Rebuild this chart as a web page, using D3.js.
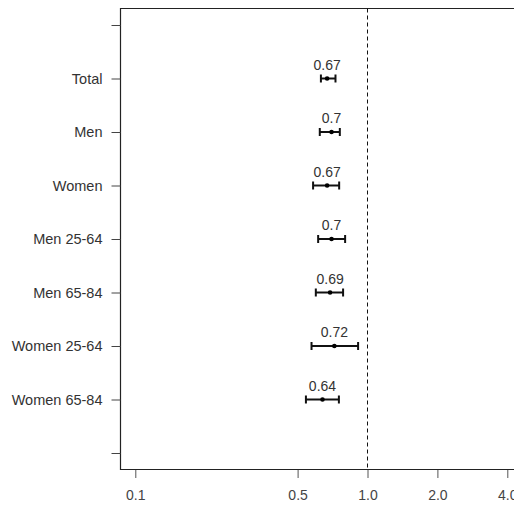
<!DOCTYPE html>
<html>
<head>
<meta charset="utf-8">
<script src="https://cdn.jsdelivr.net/npm/d3@7"></script>
<style>
  html, body { margin: 0; padding: 0; background: #fff; }
  svg { display: block; }
  text { font-family: "Liberation Sans", Arial, sans-serif; }
</style>
</head>
<body>
<script>
// Hazard ratios with 95% confidence intervals by group
const groups = ["Total", "Men", "Women", "Men 25-64", "Men 65-84", "Women 25-64", "Women 65-84"];
const estimates = [0.67, 0.70, 0.67, 0.70, 0.69, 0.72, 0.64];
const lower = [0.63, 0.623, 0.583, 0.613, 0.599, 0.574, 0.543];
const upper = [0.728, 0.76, 0.755, 0.801, 0.785, 0.911, 0.753];
const xTicks = [0.1, 0.5, 1.0, 2.0, 4.0];
const refValue = 1.0;

const W = 514, H = 508;
const box = { left: 120.5, top: 8.5, bottom: 469.5, right: 530 };

const svg = d3.select("body").append("svg")
  .attr("width", W).attr("height", H);

const x = d3.scaleLog().domain([0.1, 4]).range([135.3, 507.3]);
// slots 0 and 8 are empty padding rows above and below the groups
const y = d3.scaleLinear().domain([0, 8]).range([25, 453]);

// plot frame (left, top, bottom)
svg.append("path")
  .attr("d", `M${box.right},${box.top}H${box.left}V${box.bottom}H${box.right}`)
  .attr("fill", "none").attr("stroke", "#222").attr("stroke-width", 1.2);

// reference line at 1.0
svg.append("line")
  .attr("x1", x(refValue)).attr("x2", x(refValue))
  .attr("y1", box.top).attr("y2", box.bottom)
  .attr("stroke", "#111").attr("stroke-width", 1)
  .attr("stroke-dasharray", "4,3");

// x axis
const xAxis = d3.axisBottom(x)
  .tickValues(xTicks)
  .tickFormat(d3.format(".1f"))
  .tickSize(8).tickPadding(12);
const gx = svg.append("g").attr("transform", `translate(0,${box.bottom + 0.5})`).call(xAxis);
gx.select(".domain").remove();
gx.selectAll(".tick line").attr("stroke", "#555");
gx.selectAll(".tick text").attr("fill", "#444").style("font-size", "14px");

// y axis
const yIdx = d3.range(0, 9);
const yAxis = d3.axisLeft(y)
  .tickValues(yIdx)
  .tickFormat(i => (i >= 1 && i <= groups.length) ? groups[i - 1] : "")
  .tickSize(9).tickPadding(9);
const gy = svg.append("g").attr("transform", `translate(${box.left},0)`).call(yAxis);
gy.select(".domain").remove();
gy.selectAll(".tick line").attr("stroke", "#444");
gy.selectAll(".tick text").attr("fill", "#333").style("font-size", "14.5px");

// error bars
const rows = groups.map((g, i) => ({ g, est: estimates[i], lo: lower[i], hi: upper[i], yy: y(i + 1) }));
const capH = 4;
const bars = svg.append("g").selectAll("g").data(rows).join("g");
bars.append("line")
  .attr("x1", d => x(d.lo)).attr("x2", d => x(d.hi))
  .attr("y1", d => d.yy).attr("y2", d => d.yy)
  .attr("stroke", "#111").attr("stroke-width", 2);
bars.append("line")
  .attr("x1", d => x(d.lo)).attr("x2", d => x(d.lo))
  .attr("y1", d => d.yy - capH).attr("y2", d => d.yy + capH)
  .attr("stroke", "#111").attr("stroke-width", 2);
bars.append("line")
  .attr("x1", d => x(d.hi)).attr("x2", d => x(d.hi))
  .attr("y1", d => d.yy - capH).attr("y2", d => d.yy + capH)
  .attr("stroke", "#111").attr("stroke-width", 2);
bars.append("circle")
  .attr("cx", d => x(d.est)).attr("cy", d => d.yy).attr("r", 2.3)
  .attr("fill", "#000");
bars.append("text")
  .attr("x", d => x(d.est)).attr("y", d => d.yy - 9)
  .attr("text-anchor", "middle")
  .attr("fill", "#333").style("font-size", "14px")
  .text(d => String(d.est));
</script>
</body>
</html>
